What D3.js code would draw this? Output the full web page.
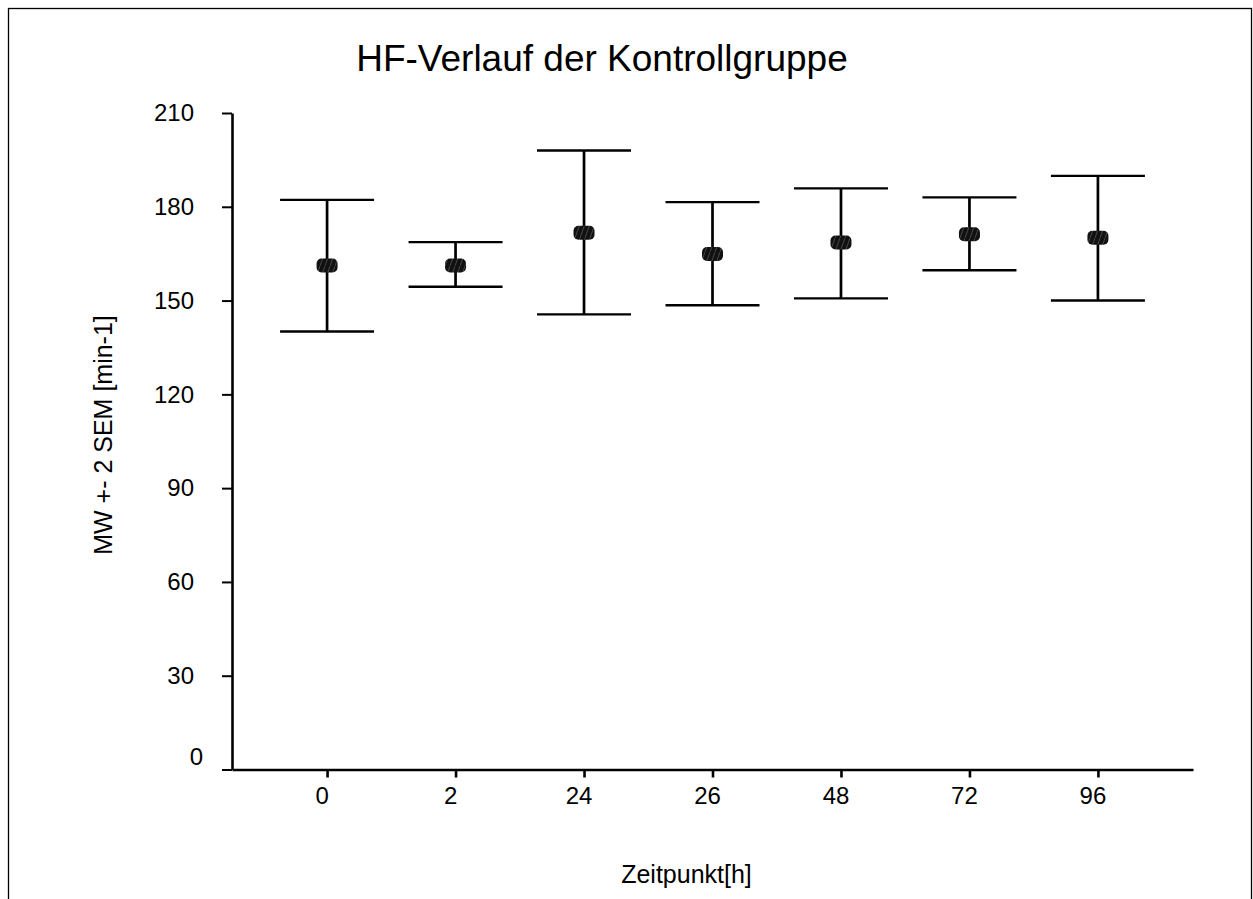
<!DOCTYPE html>
<html>
<head>
<meta charset="utf-8">
<script src="https://cdn.jsdelivr.net/npm/d3@7"></script>
<style>
  html, body { margin: 0; padding: 0; background: #fff; }
  svg { display: block; font-family: "Liberation Sans", Arial, sans-serif; }
</style>
</head>
<body>
<svg id="chart" width="1253" height="899"></svg>
<script>
// ---- data ----
const categories = ["0", "2", "24", "26", "48", "72", "96"];
const meanValues = [161.2, 161.2, 171.7, 164.9, 168.6, 171.2, 170.1];
const upperValues = [182.2, 168.7, 198.0, 181.5, 185.9, 183.0, 189.9];
const lowerValues = [140.1, 154.4, 145.6, 148.5, 150.7, 159.7, 150.0];
const yTicks = [0, 30, 60, 90, 120, 150, 180, 210];
const titleText = "HF-Verlauf der Kontrollgruppe";
const xTitle = "Zeitpunkt[h]";
const yTitle = "MW +- 2 SEM [min-1]";

const svg = d3.select("#chart");

// frame
svg.append("rect")
  .attr("x", 8.5).attr("y", 8.5)
  .attr("width", 1243).attr("height", 1000)
  .attr("fill", "none").attr("stroke", "#000").attr("stroke-width", 1.3);

// hatch pattern for markers
const defs = svg.append("defs");
const pat = defs.append("pattern")
  .attr("id", "hatch").attr("patternUnits", "userSpaceOnUse")
  .attr("width", 5).attr("height", 14);
pat.append("rect").attr("width", 5).attr("height", 14).attr("fill", "#111");
pat.append("path").attr("d", "M0,14 L5,0").attr("stroke", "#6a6a6a").attr("stroke-width", 0.6);

const x = d3.scalePoint().domain(categories).range([232, 1193]).padding(0.74);
const y = d3.scaleLinear().domain([0, 210]).range([769.5, 113]);

// y axis
const yAxis = svg.append("g")
  .attr("transform", "translate(232,0)")
  .call(d3.axisLeft(y).tickValues(yTicks).tickSize(10).tickSizeOuter(0).tickPadding(28));
yAxis.select(".domain").attr("stroke-width", 2.6);
yAxis.selectAll(".tick line").attr("stroke-width", 2);
yAxis.selectAll(".tick text")
  .attr("font-size", 24).attr("fill", "#000")
  .attr("font-family", "'Liberation Sans', Arial, sans-serif");
yAxis.selectAll(".tick").filter(d => d === 0).select("text")
  .attr("transform", "translate(9,-13)");

// x axis
const xAxis = svg.append("g")
  .attr("transform", `translate(0,${y(0)})`)
  .call(d3.axisBottom(x).tickSize(8).tickSizeOuter(0).tickPadding(9.5));
xAxis.select(".domain").attr("stroke-width", 2.6);
xAxis.selectAll(".tick line").attr("stroke-width", 2.6);
xAxis.selectAll(".tick text")
  .attr("font-size", 24).attr("fill", "#000").attr("dx", -5.5)
  .attr("font-family", "'Liberation Sans', Arial, sans-serif");

// error bars
const rows = categories.map((c, i) => ({ c, m: meanValues[i], hi: upperValues[i], lo: lowerValues[i] }));
const capHalf = 47;
const g = svg.append("g");
g.selectAll("line.v").data(rows).join("line")
  .attr("x1", d => x(d.c)).attr("x2", d => x(d.c))
  .attr("y1", d => y(d.hi)).attr("y2", d => y(d.lo))
  .attr("stroke", "#000").attr("stroke-width", 2.7);
g.selectAll("line.hi").data(rows).join("line")
  .attr("x1", d => x(d.c) - capHalf).attr("x2", d => x(d.c) + capHalf)
  .attr("y1", d => y(d.hi)).attr("y2", d => y(d.hi))
  .attr("stroke", "#000").attr("stroke-width", 2.4);
g.selectAll("line.lo").data(rows).join("line")
  .attr("x1", d => x(d.c) - capHalf).attr("x2", d => x(d.c) + capHalf)
  .attr("y1", d => y(d.lo)).attr("y2", d => y(d.lo))
  .attr("stroke", "#000").attr("stroke-width", 2.4);
g.selectAll("rect.m").data(rows).join("rect")
  .attr("x", d => x(d.c) - 10.5).attr("y", d => y(d.m) - 7)
  .attr("width", 21).attr("height", 14).attr("rx", 5).attr("ry", 5)
  .attr("fill", "url(#hatch)");

// titles
svg.append("text")
  .attr("x", 602).attr("y", 71)
  .attr("text-anchor", "middle").attr("font-size", 37).attr("fill", "#000")
  .text(titleText);
svg.append("text")
  .attr("x", 686.5).attr("y", 883)
  .attr("text-anchor", "middle").attr("font-size", 25).attr("fill", "#000")
  .text(xTitle);
svg.append("text")
  .attr("transform", "translate(111.5,435) rotate(-90)")
  .attr("text-anchor", "middle").attr("font-size", 25).attr("fill", "#000")
  .text(yTitle);
</script>
</body>
</html>
